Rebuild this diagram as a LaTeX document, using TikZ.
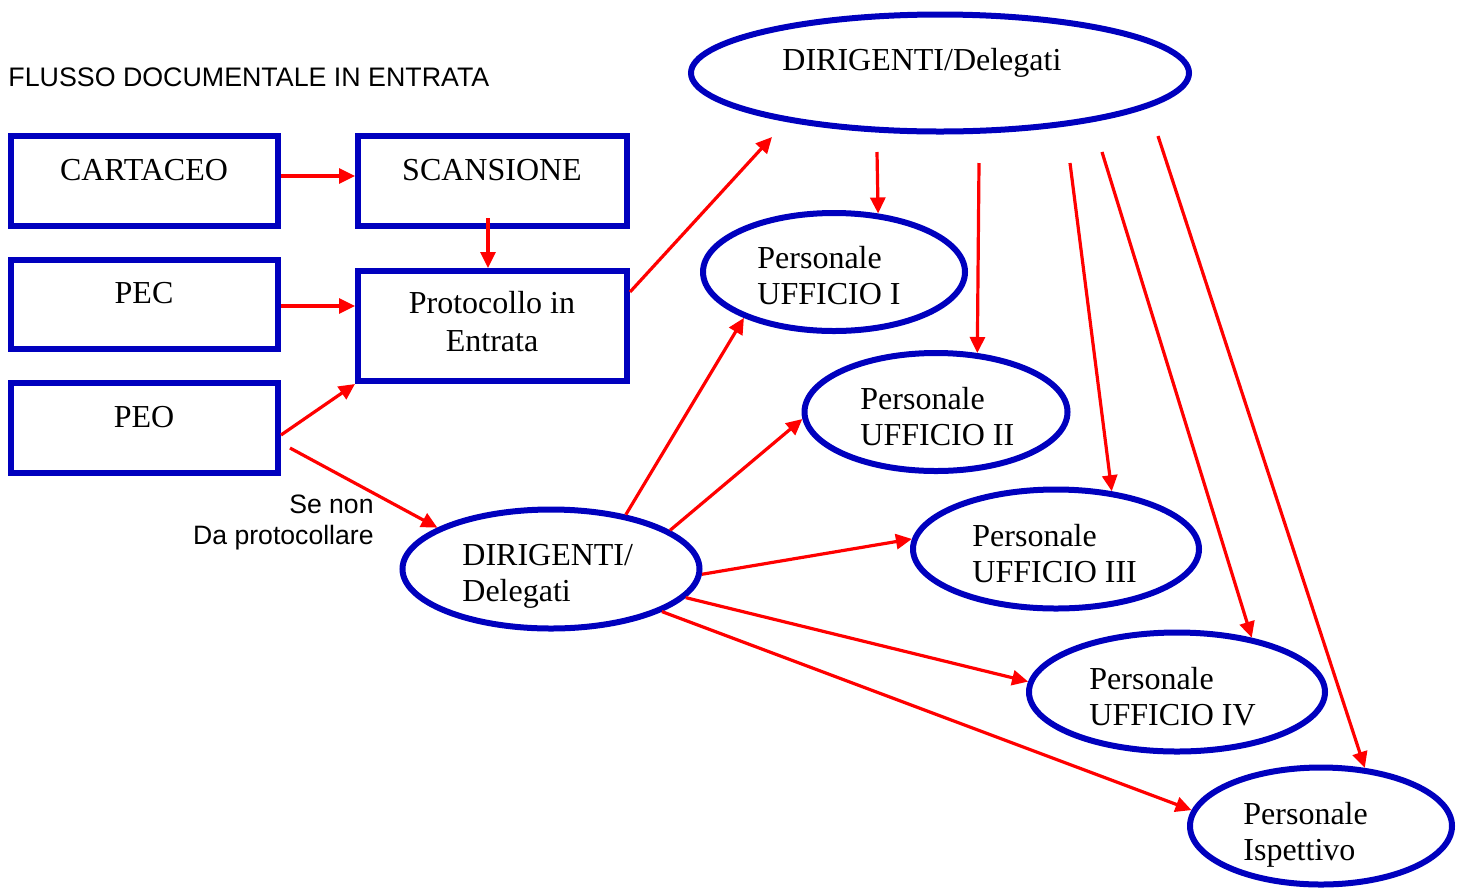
\documentclass[tikz,border=0pt]{standalone}
\usepackage{fontspec}
\setmainfont{Liberation Serif}
\setsansfont{Liberation Sans}
\usetikzlibrary{arrows.meta,shapes.geometric}
\definecolor{nblue}{RGB}{0,0,190}
\begin{document}
\begin{tikzpicture}[x=0.5pt,y=-0.5pt,
  box/.style={draw=nblue,line width=3pt,rectangle,inner sep=0pt},
  oval/.style={draw=nblue,line width=3pt,ellipse,inner sep=0pt},
  arr/.style={draw=red,line width=1.6pt,-{Triangle[length=8pt,width=7.5pt]}},
  lbl/.style={font=\fontsize{16}{18}\selectfont,inner sep=0pt,anchor=base west,align=left},
  ctr/.style={font=\fontsize{16}{19}\selectfont,inner sep=0pt,anchor=base,align=center},
  sans/.style={font=\sffamily\fontsize{13.3}{15.5}\selectfont,inner sep=0pt}]
\useasboundingbox (0,0) rectangle (1462,890);

% title
\node[sans,anchor=base west,font=\sffamily\fontsize{13.4}{15.5}\selectfont] (title) at (8,86) {FLUSSO DOCUMENTALE IN ENTRATA};

% boxes
\node[box,minimum width=133.5pt,minimum height=45pt] (cart) at (144.5,181) {};
\node[box,minimum width=134.5pt,minimum height=45pt] (scan) at (492.5,181) {};
\node[box,minimum width=133.5pt,minimum height=44.5pt] (pec) at (144.5,304.5) {};
\node[box,minimum width=134.5pt,minimum height=55pt] (prot) at (492.5,326) {};
\node[box,minimum width=133.5pt,minimum height=45pt] (peo) at (144.5,428) {};

\node[ctr] (cartT) at (144,180) {CARTACEO};
\node[ctr] (scanT) at (492,180) {SCANSIONE};
\node[ctr] (pecT) at (144,303) {PEC};
\node[ctr] (protT) at (492,351) {Protocollo in\\Entrata};
\node[ctr] (peoT) at (144,427) {PEO};

% ellipses
\node[oval,minimum width=249pt,minimum height=58.5pt] (top) at (940,73) {};
\node[oval,minimum width=131pt,minimum height=59pt] (u1) at (834,272) {};
\node[oval,minimum width=131.5pt,minimum height=59pt] (u2) at (936,412) {};
\node[oval,minimum width=143pt,minimum height=59.5pt] (u3) at (1056,549) {};
\node[oval,minimum width=148pt,minimum height=59.5pt] (u4) at (1177,692) {};
\node[oval,minimum width=131pt,minimum height=58.5pt] (isp) at (1321,826) {};
\node[oval,minimum width=148.5pt,minimum height=59.5pt] (dir2) at (551,569) {};

\node[lbl] (topT) at (782,70) {DIRIGENTI/Delegati};
\node[lbl] (u1T) at (757,304) {Personale\\UFFICIO I};
\node[lbl] (u2T) at (860,445) {Personale\\UFFICIO II};
\node[lbl] (u3T) at (972,582) {Personale\\UFFICIO III};
\node[lbl] (u4T) at (1089,725) {Personale\\UFFICIO IV};
\node[lbl] (ispT) at (1243,860) {Personale\\Ispettivo};
\node[lbl] (dir2T) at (462,601) {DIRIGENTI/\\Delegati};

% side label
\node[sans,anchor=base east,align=right] (note) at (374,544) {Se non\\Da protocollare};

% free ends
\coordinate (s1) at (488,218);
\coordinate (tt) at (772,137);
\coordinate (p1) at (290,448);
\coordinate (t1) at (877,152);
\coordinate (t2) at (979,163);
\coordinate (t3) at (1070,163);
\coordinate (t4) at (1102,152);
\coordinate (t5) at (1158,136);

% connectors
\draw[arr] ([yshift=2.5pt]cart.east) -- ([yshift=2.5pt]scan.west);
\draw[arr] (s1) -- (s1 |- prot.north);
\draw[arr] ([yshift=-0.75pt]pec.east) -- ([yshift=-0.75pt]pec.east -| prot.west);
\draw[arr] ([yshift=-3.5pt]peo.east) -- (prot.south west);
\draw[arr] (p1) -- (dir2.160.6);
\draw[arr] ([yshift=17pt]prot.east) -- (tt);

\draw[arr] (t1) -- (u1.53);
\draw[arr] (t2) -- (u2.55.3);
\draw[arr] (t3) -- (u3.46.4);
\draw[arr] (t4) -- (u4.36.2);
\draw[arr] (t5) -- (isp.53.6);

\draw[arr] (dir2.36.9) -- (u1.207.3);
\draw[arr] (dir2.18.6) -- (u2.183.9);
\draw[arr] (dir2.358.9) -- (u3.176.9);
\draw[arr] (dir2.348.8) -- (u4.176.2);
\draw[arr] (dir2.339.7) -- (isp.173.2);
\end{tikzpicture}
\end{document}
